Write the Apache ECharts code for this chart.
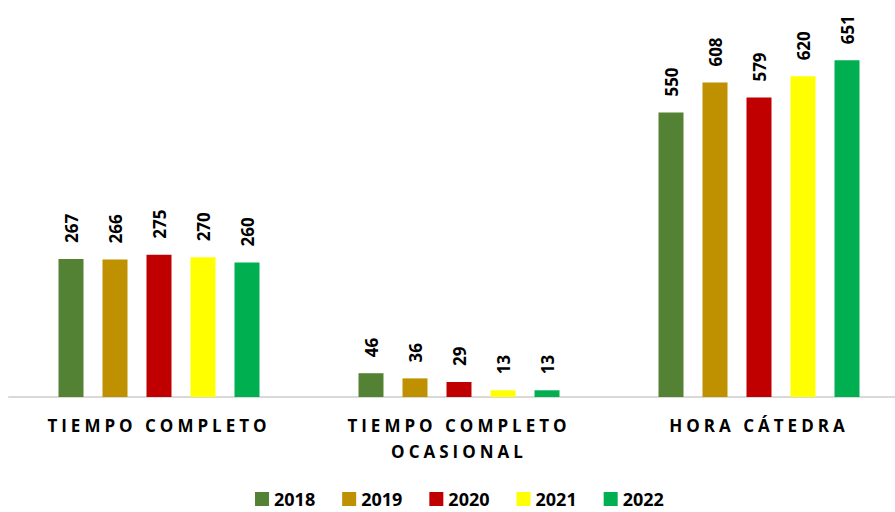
<!DOCTYPE html>
<html>
<head>
<meta charset="utf-8">
<script src="https://cdn.jsdelivr.net/npm/echarts@6/dist/echarts.min.js"></script>
<style>
  html, body { margin: 0; padding: 0; background: #fff; }
  #chart { width: 895px; height: 512px; }
</style>
</head>
<body>
<div id="chart"></div>
<script>
// Personal académico por tipo de dedicación, 2018–2022
const categories = ['TIEMPO COMPLETO', 'TIEMPO COMPLETO\nOCASIONAL', 'HORA CÁTEDRA'];
const years = ['2018', '2019', '2020', '2021', '2022'];
const values2018 = [267, 46, 550];
const values2019 = [266, 36, 608];
const values2020 = [275, 29, 579];
const values2021 = [270, 13, 620];
const values2022 = [260, 13, 651];
const seriesValues = [values2018, values2019, values2020, values2021, values2022];
const colors = ['#548235', '#BF9000', '#C00000', '#FFFF00', '#00B050'];

const FONT = '"Open Sans", "Liberation Sans", sans-serif';

const chart = echarts.init(document.getElementById('chart'), null, { renderer: 'svg' });

const series = years.map((y, i) => ({
  name: y,
  type: 'bar',
  data: seriesValues[i],
  barWidth: 25,
  barGap: '76%',
  itemStyle: { color: colors[i] },
  label: {
    show: true,
    position: 'top',
    rotate: 90,
    align: 'left',
    verticalAlign: 'middle',
    distance: 16,
    fontFamily: FONT,
    fontWeight: 'bold',
    fontSize: 17,
    color: '#000'
  }
}));

chart.setOption({
  animation: false,
  color: colors,
  grid: { left: 9, width: 900, top: 35, bottom: 115, outerBoundsMode: 'none', containLabel: false },
  xAxis: {
    type: 'category',
    data: categories,
    axisLine: { lineStyle: { color: '#d9d9d9', width: 2 } },
    axisTick: { show: false },
    axisLabel: {
      margin: 15,
      fontFamily: FONT,
      fontWeight: 'bold',
      fontSize: 17,
      lineHeight: 26,
      color: '#000'
    }
  },
  yAxis: {
    type: 'value',
    min: 0,
    max: 700,
    show: false,
    splitLine: { show: false }
  },
  legend: {
    top: 490,
    left: 255,
    padding: 0,
    itemWidth: 14,
    itemHeight: 14,
    itemGap: 27,
    icon: 'rect',
    textStyle: { fontFamily: FONT, fontWeight: 'bold', fontSize: 18, lineHeight: 18, color: '#000' }
  },
  series: series
});

// Spread out the letters of the category labels
const labelLines = new Set(categories.join('\n').split('\n'));
document.querySelectorAll('#chart text').forEach(t => {
  if (labelLines.has(t.textContent.trim())) {
    t.style.letterSpacing = '4px';
  }
});
</script>
</body>
</html>
